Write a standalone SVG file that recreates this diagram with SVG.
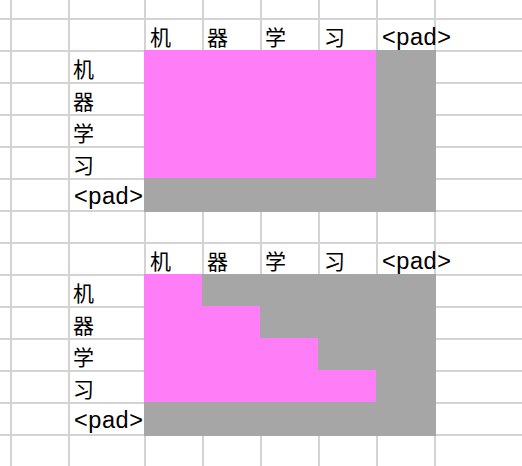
<svg xmlns="http://www.w3.org/2000/svg" width="522" height="466" viewBox="0 0 522 466">
<style>
.g{stroke:#d3d3d3;stroke-width:2;fill:none}
.pink{fill:#ff7ef8}
.grey{fill:#a6a6a6}
text{font-family:"Liberation Sans","Noto Sans CJK SC",sans-serif;font-size:21px;fill:#000}
text.pad{font-size:23.5px}
</style>
<rect width="522" height="466" fill="#fff"/>
<g id="grid" class="g">
<path d="M11 0V466M69 0V466M145 0V466M203 0V466M261 0V466M319 0V466M377 0V466M435 0V466"/>
<path d="M0 19H522M0 51H522M0 83H522M0 115H522M0 147H522M0 179H522M0 211H522M0 243H522M0 275H522M0 307H522M0 339H522M0 371H522M0 403H522M0 435H522"/>
</g>
<g id="mask-padding">
<rect class="grey" x="144" y="50" width="292" height="162"/>
<rect class="pink" x="144" y="50" width="232" height="128"/>
</g>
<g id="mask-causal">
<rect class="grey" x="144" y="274" width="292" height="162"/>
<polygon class="pink" points="144,274 202,274 202,306 260,306 260,338 318,338 318,370 376,370 376,402 144,402"/>
</g>
<g id="labels-top">
<text x="150" y="45">机</text>
<text x="207" y="45">器</text>
<text x="265" y="45">学</text>
<text x="324" y="45">习</text>
<text class="pad" x="382" y="45" textLength="69" lengthAdjust="spacing">&lt;pad&gt;</text>
<text x="73" y="77">机</text>
<text x="73" y="109">器</text>
<text x="73" y="141">学</text>
<text x="73" y="173">习</text>
<text class="pad" x="74" y="204" textLength="69" lengthAdjust="spacing">&lt;pad&gt;</text>
</g>
<g id="labels-bottom">
<text x="150" y="269">机</text>
<text x="207" y="269">器</text>
<text x="265" y="269">学</text>
<text x="324" y="269">习</text>
<text class="pad" x="382" y="269" textLength="69" lengthAdjust="spacing">&lt;pad&gt;</text>
<text x="73" y="301">机</text>
<text x="73" y="333">器</text>
<text x="73" y="365">学</text>
<text x="73" y="397">习</text>
<text class="pad" x="74" y="428" textLength="69" lengthAdjust="spacing">&lt;pad&gt;</text>
</g>
</svg>
